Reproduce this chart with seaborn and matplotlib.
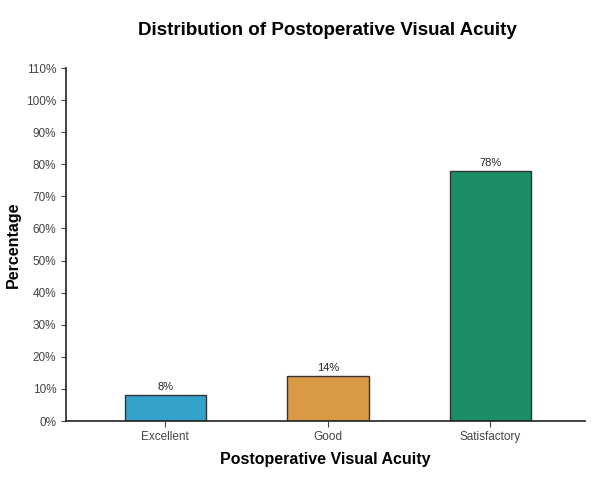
import matplotlib
matplotlib.use("Agg")
import matplotlib.pyplot as plt
import seaborn as sns
import pandas as pd
from matplotlib.ticker import MultipleLocator, FuncFormatter

categories = ["Excellent", "Good", "Satisfactory"]
percentages = [8, 14, 78]
colors = ["#1AADE4", "#F39C2B", "#0A9E70"]

df = pd.DataFrame({"acuity": categories, "pct": percentages})

plt.rcParams["font.family"] = "Liberation Sans"
fig = plt.figure(figsize=(6.06, 4.79), dpi=100)
ax = fig.add_axes([0.109, 0.121, 0.856, 0.737])

sns.barplot(data=df, x="acuity", y="pct", hue="acuity", palette=colors,
            width=0.5, edgecolor="#333333", linewidth=1, legend=False, ax=ax)

for i, v in enumerate(percentages):
    ax.text(i, v + 1, f"{v}%", ha="center", va="bottom", fontsize=8, color="#222222")

ax.set_xlim(-0.61, 2.58)
ax.set_ylim(0, 110)
ax.yaxis.set_major_locator(MultipleLocator(10))
ax.yaxis.set_major_formatter(FuncFormatter(lambda v, p: f"{int(v)}%"))
ax.tick_params(axis="both", labelsize=8.5, colors="#444444")
ax.tick_params(axis="x", length=4)
sns.despine(ax=ax)
for s in ["left", "bottom"]:
    ax.spines[s].set_color("#222222")
    ax.spines[s].set_linewidth(1.2)

ax.set_xlabel("Postoperative Visual Acuity", fontsize=11.5, fontweight="bold", labelpad=6)
ax.set_ylabel("Percentage", fontsize=11.5, fontweight="bold")
fig.suptitle("Distribution of Postoperative Visual Acuity", fontsize=13.5,
             fontweight="bold", x=0.54, y=0.955)

fig.savefig("out.png", dpi=100)
